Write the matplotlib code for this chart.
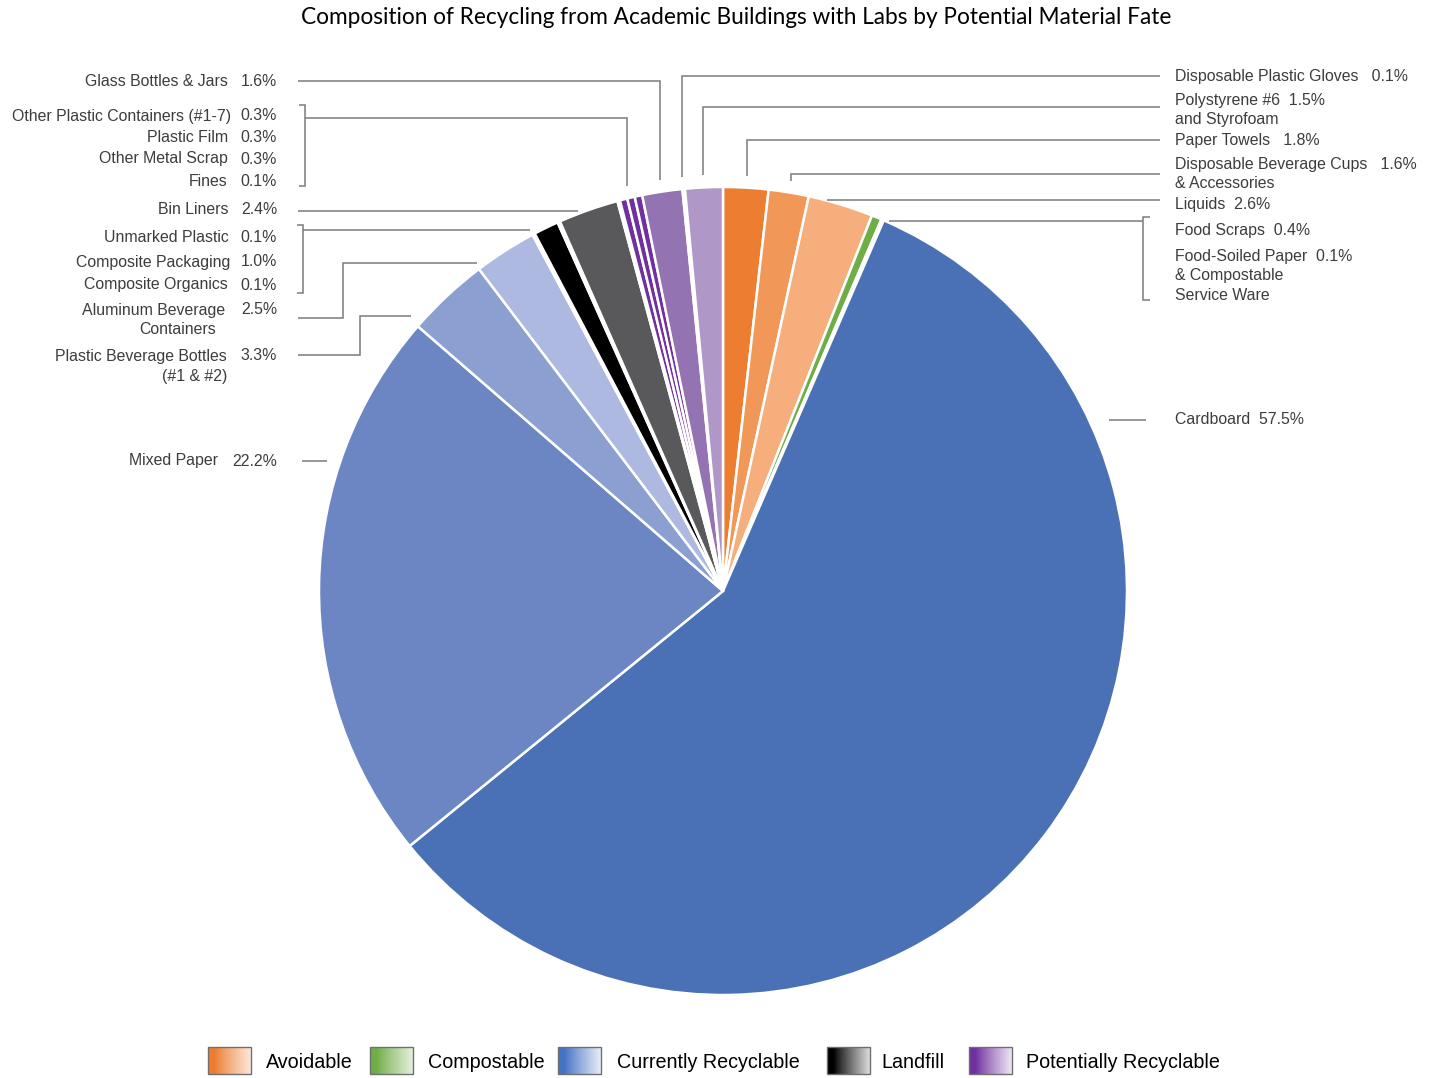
import numpy as np
import matplotlib
matplotlib.use("Agg")
import matplotlib.pyplot as plt
from matplotlib.colors import to_rgb

# ---- data -------------------------------------------------------------
materials = [
    "Paper Towels", "Disposable Beverage Cups & Accessories", "Liquids",
    "Food Scraps", "Food-Soiled Paper & Compostable Service Ware",
    "Cardboard", "Mixed Paper", "Plastic Beverage Bottles (#1 & #2)",
    "Aluminum Beverage Containers", "Composite Organics", "Composite Packaging",
    "Unmarked Plastic", "Bin Liners", "Fines", "Other Metal Scrap",
    "Plastic Film", "Other Plastic Containers (#1-7)", "Glass Bottles & Jars",
    "Disposable Plastic Gloves", "Polystyrene #6 and Styrofoam",
]
shares = [1.8, 1.6, 2.6, 0.4, 0.1, 57.5, 22.2, 3.3, 2.5, 0.1,
          1.0, 0.1, 2.4, 0.1, 0.3, 0.3, 0.3, 1.6, 0.1, 1.5]
fates = ["Avoidable", "Avoidable", "Avoidable", "Compostable", "Compostable",
         "Currently Recyclable", "Currently Recyclable", "Currently Recyclable",
         "Currently Recyclable", "Landfill", "Landfill", "Landfill", "Landfill",
         "Potentially Recyclable", "Potentially Recyclable", "Potentially Recyclable",
         "Potentially Recyclable", "Potentially Recyclable", "Potentially Recyclable",
         "Potentially Recyclable"]
legend_labels = ["Avoidable", "Compostable", "Currently Recyclable",
                 "Landfill", "Potentially Recyclable"]

# ---- styles -----------------------------------------------------------
slice_colors = ["#ED7D31", "#F19758", "#F5AE7C", "#70AD47", "#C9E2B8",
                "#4A71B6", "#6C86C3", "#8B9FD0", "#ADB9E0", "#D9DEF0",
                "#000000", "#DADADA", "#59595B", "#E2D8EE", "#7030A0",
                "#7030A0", "#7030A0", "#9473B2", "#E4DCEE", "#AF98C8"]
legend_dark = ["#ED7D31", "#70AD47", "#4472C4", "#000000", "#7030A0"]
legend_light = ["#FCE8DA", "#E4F0DB", "#E6ECF8", "#DCDCDC", "#EEE6F4"]

W, H = 1436, 1078
TEXT = "#3d3d3d"
LINE = "#7a7a7a"
LFONT = "Liberation Sans"
LSIZE = 11.4

fig = plt.figure(figsize=(W / 100, H / 100), dpi=100)
ax = fig.add_axes([0, 0, 1, 1])

CX, CY, R = 723, H - 591, 404
wedges, _ = ax.pie(shares, colors=slice_colors, startangle=90, counterclock=False,
                   center=(CX, CY), radius=R, normalize=True,
                   wedgeprops=dict(edgecolor="white", linewidth=1.8))
ax.set_xlim(0, W)
ax.set_ylim(0, H)
ax.set_aspect("equal")
ax.axis("off")


def Y(y):
    return H - y


def mid_angle(idx):
    lo = min(wedges[i].theta1 for i in idx)
    hi = max(wedges[i].theta2 for i in idx)
    return np.deg2rad((lo + hi) / 2)


def rim_point(idx, gap=12):
    th = mid_angle(idx)
    return CX + (R + gap) * np.cos(th), CY + (R + gap) * np.sin(th)


def rim_x(y_img, side, gap):
    dy = Y(y_img) - CY
    return CX + side * (np.sqrt(R ** 2 - dy ** 2) + gap)


def poly(pts):
    xs = [p[0] for p in pts]
    ys = [p[1] for p in pts]
    ax.plot(xs, ys, color=LINE, lw=1.1, solid_capstyle="butt",
            solid_joinstyle="miter")


def drop(x0, yh, idx):
    axp, ayp = rim_point(idx)
    poly([(x0, Y(yh)), (axp, Y(yh)), (axp, ayp)])


def flat(x0, yh, side, gap):
    poly([(x0, Y(yh)), (rim_x(yh, side, gap), Y(yh))])


def step(x0, y0, xe, ye, gap):
    poly([(x0, Y(y0)), (xe, Y(y0)), (xe, Y(ye)), (rim_x(ye, -1, gap), Y(ye))])


def bracket(x, y0, y1, tick):
    poly([(x + tick, Y(y0)), (x, Y(y0)), (x, Y(y1)), (x + tick, Y(y1))])


# ---- leader lines -----------------------------------------------------
drop(298, 81, [17])                      # glass
bracket(305, 105, 186, -6)
drop(305, 118, [13, 14, 15, 16])         # small plastics / metal group
flat(298, 211, -1, 8)                    # bin liners
bracket(303, 225, 293, -6)
flat(303, 230, -1, 12)                   # landfill group
step(298, 318, 343, 263, 10)             # aluminum
step(298, 355, 360, 316, 16)             # plastic bottles
flat(302, 461, -1, 13)                   # mixed paper

drop(1160, 76, [18])                     # gloves
drop(1160, 107, [19])                    # polystyrene
drop(1160, 140, [0])                     # paper towels
drop(1160, 174, [1])                     # cups
flat(1160, 200, 1, 2)                    # liquids
bracket(1143, 217, 300, 7)
flat(1143, 221, 1, 4)                    # compostables
flat(1146, 420, 1, 20)                   # cardboard


def pct(i):
    return f"{shares[i]:.1f}%"


def txt(x, y, s, ha="left", **kw):
    ax.text(x, Y(y), s, ha=ha, va="center", fontsize=LSIZE, color=TEXT,
            family=LFONT, **kw)


# ---- left-hand labels (name column + value column) -------------------
left_labels = [
    (17, 81, ["Glass Bottles & Jars"], 228),
    (16, 116, ["Other Plastic Containers (#1-7)"], 231),
    (15, 137, ["Plastic Film"], 228),
    (14, 159, ["Other Metal Scrap"], 228),
    (13, 181, ["Fines"], 228),
    (12, 210, ["Bin Liners"], 229),
    (11, 238, ["Unmarked Plastic"], 229),
    (10, 262, ["Composite Packaging"], 230),
    (9, 285, ["Composite Organics"], 228),
    (8, 310, ["Aluminum Beverage"], 225),
    (7, 356, ["Plastic Beverage Bottles", "(#1 & #2)"], 227),
    (6, 461, ["Mixed Paper"], 218),
]
for i, y, lines, xr in left_labels:
    txt(xr, y, lines[0], ha="right")
    txt(277, y, pct(i), ha="right")
    for k, extra in enumerate(lines[1:], start=1):
        txt(xr, y + 20 * k, extra, ha="right")
txt(216, 329, "Containers", ha="right")

# ---- right-hand labels ------------------------------------------------
XR = 1175
right_labels = [
    (18, 76, "Disposable Plastic Gloves   {}", []),
    (19, 100, "Polystyrene #6  {}", ["and Styrofoam"]),
    (0, 141, "Paper Towels   {}", []),
    (1, 164, "Disposable Beverage Cups   {}", ["& Accessories"]),
    (2, 205, "Liquids  {}", []),
    (3, 230, "Food Scraps  {}", []),
    (4, 256, "Food-Soiled Paper  {}", ["& Compostable", "Service Ware"]),
    (5, 420, "Cardboard  {}", []),
]
for i, y, fmt, extra in right_labels:
    txt(XR, y, fmt.format(pct(i)))
    for k, s in enumerate(extra, start=1):
        txt(XR, y + 19.5 * k, s)

# ---- title --------------------------------------------------------------
ax.text(736, Y(18), "Composition of Recycling from Academic Buildings with Labs by Potential Material Fate",
        ha="center", va="center", fontsize=16.3, color="#000000", family="Lato")

# ---- legend with gradient swatches -------------------------------------
patch_x = [208, 370, 558, 827, 969]
text_x = [266, 428, 617, 881, 1026]
pw, ph = 43, 27
py0 = 1047
grad = np.linspace(0, 1, 64)
for lab, x0, tx, c0, c1 in zip(legend_labels, patch_x, text_x, legend_dark, legend_light):
    a, b = np.array(to_rgb(c0)), np.array(to_rgb(c1))
    t = np.clip((grad - 0.15) / 0.85, 0, 1) ** 0.9
    img = a[None, :] * (1 - t[:, None]) + b[None, :] * t[:, None]
    ax.imshow(img[None, :, :], extent=(x0, x0 + pw, Y(py0 + ph), Y(py0)),
              aspect="auto", interpolation="bilinear", zorder=3)
    ax.add_patch(plt.Rectangle((x0, Y(py0 + ph)), pw, ph, fill=False,
                               edgecolor="#6f6f6f", lw=1.0, zorder=4))
    ax.text(tx, Y(py0 + ph / 2 + 1.5), lab, ha="left", va="center", fontsize=14.2,
            color="black", family=LFONT)

ax.set_xlim(0, W)
ax.set_ylim(0, H)
fig.savefig("out.png", dpi=100, facecolor="white")
